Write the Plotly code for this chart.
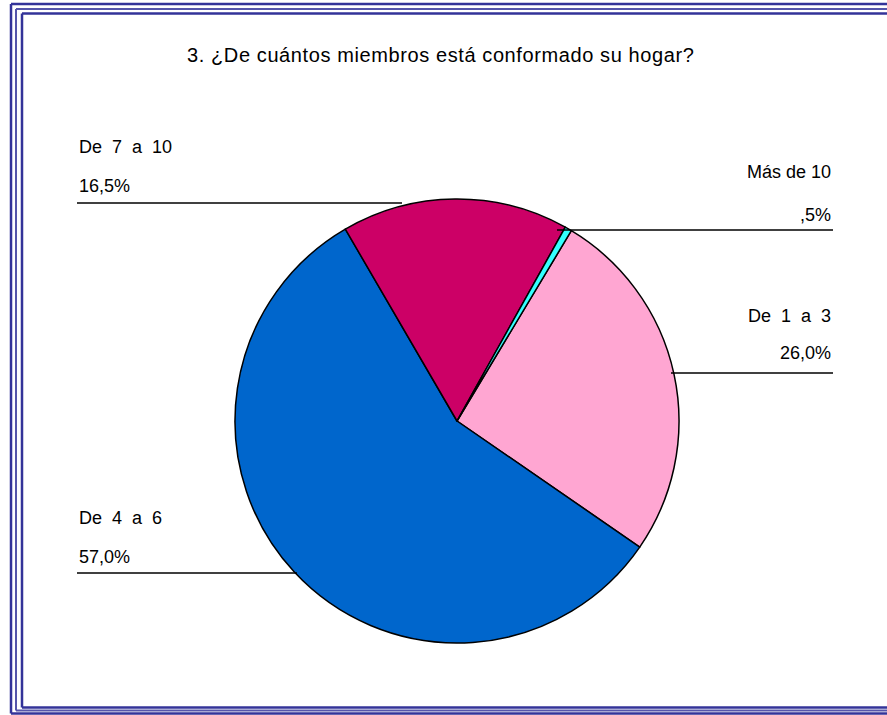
import plotly.graph_objects as go

W, H = 887, 715

categorias = ["De 1 a 3", "De 4 a 6", "De 7 a 10", "Más de 10"]
porcentajes = [26.0, 57.0, 16.5, 0.5]
colores = ["#FFA6D2", "#0066CC", "#CC0066", "#33FFFF"]


def fmt(v):
    s = f"{v:.1f}".replace(".", ",")
    if s.startswith("0"):
        s = s[1:]
    return s + "%"


def px(x):
    return x / W


def py(y):
    return 1 - y / H


fig = go.Figure()

# pie: center ~ (457, 421) px, radius ~ 222 px
cx, cy, r = 457, 421, 222
fig.add_trace(
    go.Pie(
        labels=categorias,
        values=porcentajes,
        sort=False,
        direction="clockwise",
        rotation=31,
        marker=dict(colors=colores, line=dict(color="black", width=1.5)),
        textinfo="none",
        hoverinfo="label+percent",
        showlegend=False,
        domain=dict(x=[px(cx - r), px(cx + r)], y=[py(cy + r), py(cy - r)]),
    )
)

font = dict(family="Arial, Liberation Sans, sans-serif", size=18, color="black")

# label placement: (text x, anchor, y name, y pct, line y, line x0, line x1)
etiquetas = {
    "De 7 a 10": (77, "left", 147, 186, 203, 77, 402),
    "Más de 10": (833, "right", 172, 215, 230, 557, 833),
    "De 1 a 3": (833, "right", 316, 353, 373, 671, 833),
    "De 4 a 6": (77, "left", 518, 557, 573, 77, 297),
}

annotations = []
shapes = []
for cat, val in zip(categorias, porcentajes):
    tx, anc, yn, yp, ly, lx0, lx1 = etiquetas[cat]
    nombre = cat.replace(" ", "&nbsp;&nbsp;") if cat != "Más de 10" else cat
    annotations.append(dict(x=px(tx), y=py(yn), xref="paper", yref="paper", text=nombre,
                            showarrow=False, xanchor=anc, yanchor="middle", font=font))
    annotations.append(dict(x=px(tx), y=py(yp), xref="paper", yref="paper", text=fmt(val),
                            showarrow=False, xanchor=anc, yanchor="middle", font=font))
    shapes.append(dict(type="line", xref="paper", yref="paper", x0=px(lx0), x1=px(lx1),
                       y0=py(ly), y1=py(ly), line=dict(color="black", width=1.5)))

# title
annotations.append(dict(x=px(440), y=py(55), xref="paper", yref="paper",
                        text="<span style='letter-spacing:0.6px'>3. ¿De cuántos miembros está conformado su hogar?</span>",
                        showarrow=False, xanchor="center", yanchor="middle",
                        font=dict(family="Arial, Liberation Sans, sans-serif", size=20, color="black")))

# triple blue frame (right side runs off the page)
for (x0, y0, y1, w, c) in [(11, 4, 713.5, 2.5, "#333399"),
                           (16, 9, 710.5, 2, "#5555AA"),
                           (22, 13.5, 707.5, 2.5, "#333399")]:
    shapes.append(dict(type="line", xref="paper", yref="paper", x0=px(x0), x1=1.05,
                       y0=py(y0), y1=py(y0), line=dict(color=c, width=w)))
    shapes.append(dict(type="line", xref="paper", yref="paper", x0=px(x0), x1=1.05,
                       y0=py(y1), y1=py(y1), line=dict(color=c, width=w)))
    shapes.append(dict(type="line", xref="paper", yref="paper", x0=px(x0), x1=px(x0),
                       y0=py(y0), y1=py(y1), line=dict(color=c, width=w)))

fig.update_layout(
    width=W,
    height=H,
    margin=dict(l=0, r=0, t=0, b=0),
    paper_bgcolor="white",
    plot_bgcolor="white",
    annotations=annotations,
    shapes=shapes,
)

fig.write_html("out.html", config={"displayModeBar": False},
               post_script="document.body.style.margin='0';document.body.style.overflow='hidden';")
